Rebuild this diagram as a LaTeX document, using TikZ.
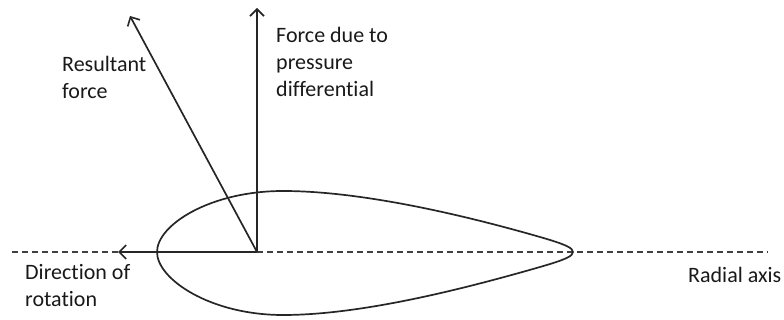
\documentclass[tikz,border=0pt]{standalone}
\usepackage{fontspec}
\setmainfont{Carlito}[Ligatures=NoCommon]
\usetikzlibrary{arrows.meta}
\begin{document}
\begin{tikzpicture}[x=1pt,y=-1pt,
  line/.style={line width=1.7pt, black!85},
  axis/.style={line width=1.7pt, black!75, dash pattern=on 6pt off 4pt},
  vec/.style={-{Straight Barb[length=7pt,width=14pt,line width=1.6pt]}, line width=1.7pt, black!85},
  lbl/.style={font=\fontsize{22}{27}\selectfont, align=left, anchor=base west, inner sep=0pt, text=black!90}]
\useasboundingbox (0,0) rectangle (784,320);
\coordinate (O) at (257,252);
\coordinate (AL) at (12,252);
\coordinate (AR) at (768,252);
\coordinate (TipL) at (118,252);
\coordinate (TipV) at (257,8);
\coordinate (TipR) at (130,16);
\coordinate (LE) at (157,252);
\coordinate (TE) at (573,252);
% axis
\draw[axis] (AL) -- (TipL);
\draw[axis] (O) -- (AR);
% airfoil
\draw[line] (TE) .. controls (573,248) and (566,244.5) .. (540,237)
  .. controls (460,214) and (360,191) .. (283,191)
  .. controls (210,191) and (157,225) .. (LE)
  .. controls (157,279) and (210,315) .. (283,315)
  .. controls (360,315) and (460,290) .. (540,267)
  .. controls (566,259.5) and (573,256) .. (TE) -- cycle;
% vectors
\draw[vec] (O) -- (TipL);
\draw[vec] (O) -- (TipV);
\draw[vec] (O) -- (TipR);
% labels (anchored at the baseline of the last line)
\node[lbl] (res) at (62,99) {Resultant\\force};
\node[lbl] (pres) at (276,97) {Force due to\\pressure\\differential};
\node[lbl] (dir) at (25,306) {Direction of\\rotation};
\node[lbl] (rad) at (688,283) {Radial axis};
\end{tikzpicture}
\end{document}
